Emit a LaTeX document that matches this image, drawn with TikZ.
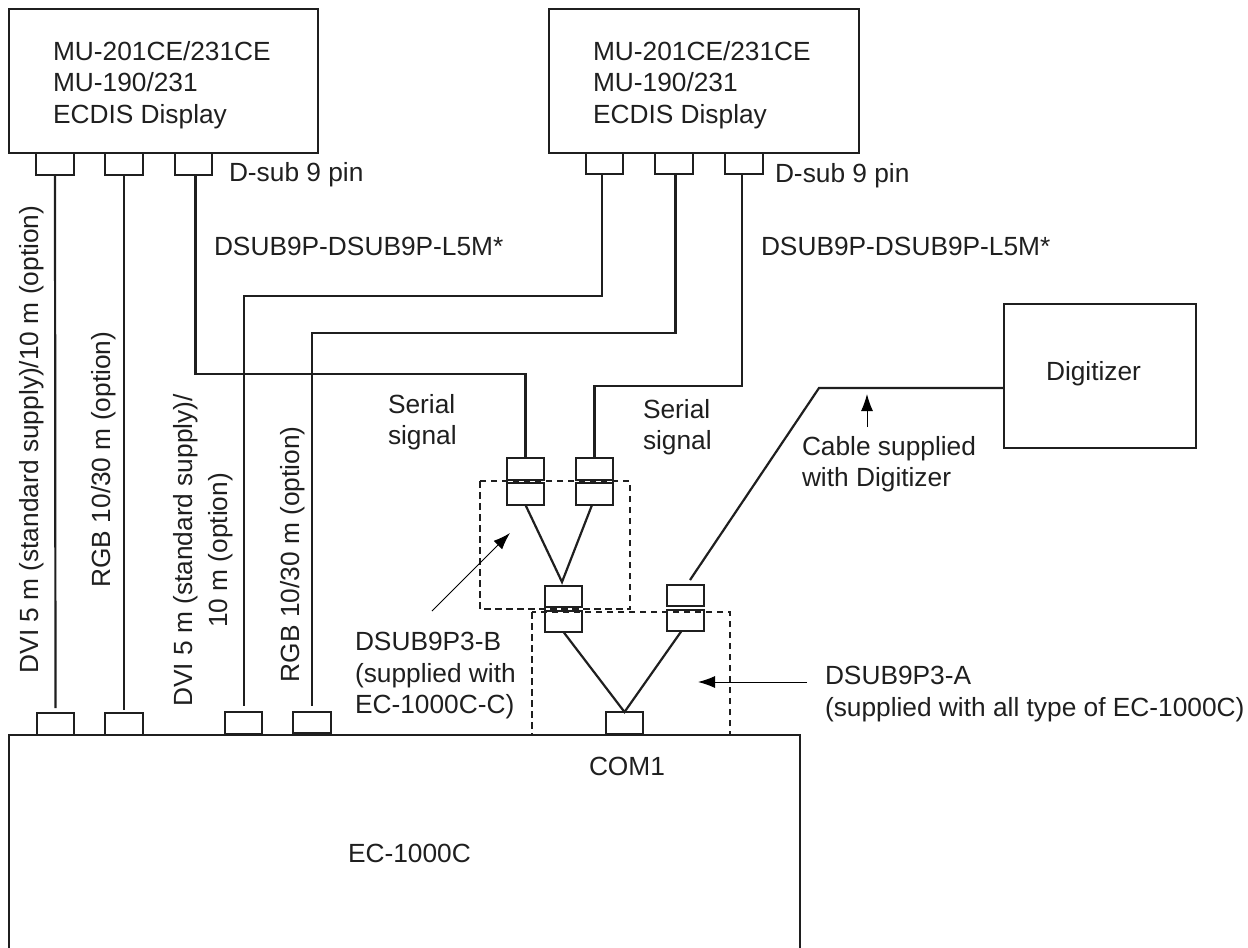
\documentclass[tikz,border=0pt]{standalone}
\usepackage{fontspec}
\setmainfont{Liberation Sans}
\usetikzlibrary{arrows.meta}
\tikzset{
  x=1pt,y=-1pt,
  frame/.style={draw=black!88,line width=2.4pt,line cap=rect,outer sep=0pt},
  lead/.style={draw=black!88,line width=2.2pt},
  conn/.style={draw=black!88,line width=2.2pt,fill=white,outer sep=0pt},
  dash box/.style={draw=black!88,line width=2.2pt,dash pattern=on 6.5pt off 4.5pt},
  pointer/.style={draw=black,line width=1pt,-{Latex[length=17pt,width=12pt]}},
  lab/.style={font=\fontsize{26.3}{31.7}\selectfont,text=black!88,inner sep=0pt,outer sep=0pt,align=left},
}
\newcommand{\cbox}[5]{\node[conn,minimum width=#4pt-#2pt,minimum height=#5pt-#3pt,inner sep=0pt,anchor=north west] (#1) at (#2,#3) {};}
\begin{document}
\begin{tikzpicture}
\useasboundingbox (0,0) rectangle (1248,948);
% boxes
\node[frame,anchor=north west,minimum width=309pt,minimum height=144pt,inner sep=0pt] (d1) at (9,9) {};
\node[frame,anchor=north west,minimum width=310pt,minimum height=144pt,inner sep=0pt] (d2) at (549,9) {};
\node[frame,anchor=north west,minimum width=192pt,minimum height=144pt,inner sep=0pt] (dig) at (1004,304) {};
\coordinate (ecbl) at (9,948); \coordinate (ectl) at (9,735);
\coordinate (ectr) at (800,735); \coordinate (ecbr) at (800,948);
\draw[frame,line cap=butt,line join=miter] (ecbl) -- (ectl) -- (ectr) -- (ecbr);
% display connectors
\cbox{a1}{36}{153}{74}{175}
\cbox{a2}{105}{153}{143}{175}
\cbox{a3}{175}{153}{212}{175}
\cbox{b1}{586}{153}{623}{174}
\cbox{b2}{655}{153}{693}{174}
\cbox{b3}{725}{153}{763}{174}
% ec connectors
\cbox{e1}{37}{713}{74}{735}
\cbox{e2}{105}{713}{143}{735}
\cbox{e3}{225}{712}{262}{734}
\cbox{e4}{293}{712}{331}{733}
\cbox{com}{606}{712}{643}{734}
% splitter connectors
\cbox{p1u}{507}{458}{544}{480}
\cbox{p1l}{507}{483}{544}{505}
\cbox{p2u}{576}{458}{613}{480}
\cbox{p2l}{576}{483}{613}{505}
\cbox{m1u}{545}{586}{582}{607}
\cbox{m1l}{545}{611}{582}{632}
\cbox{m2u}{667}{585}{704}{606}
\cbox{m2l}{667}{610}{704}{631}
% dashed groups
\coordinate (bnw) at (480,481); \coordinate (bse) at (630,609);
\coordinate (anw) at (532,612); \coordinate (ase) at (730,735);
\draw[dash box] (bnw) rectangle (bse);
\draw[dash box] (anw) rectangle (ase);
% leads
\draw[lead] (a1.south) -- ([yshift=5pt]e1.north);
\draw[lead] (a2.south) -- ([yshift=3pt]e2.north);
\draw[lead] ([xshift=2pt]a3.south) -- (195.5,374) -- (525.5,374) -- (p1u.north);
\draw[lead] ([xshift=-2.5pt]b1.south) -- (602,296) -- (244,296) -- ([xshift=0.5pt,yshift=6pt]e3.north);
\draw[lead] ([xshift=1.5pt]b2.south) -- (675.5,333) -- (312,333) -- ([yshift=6pt]e4.north);
\draw[lead] ([xshift=-2pt]b3.south) -- (742,386) -- (594.5,386) -- (p2u.north);
\coordinate (j1) at (562,582);
\draw[lead] (p1l.south) -- (j1) -- ([xshift=-2.5pt]p2l.south);
\coordinate (j2) at (624.5,712);
\draw[lead] (m1l.south) -- (j2) -- ([xshift=-4pt]m2l.south);
\coordinate (dg) at (690,580); \coordinate (dk) at (819,388);
\draw[lead] (dg) -- (dk) -- (dig.west |- dk);
% pointers
\coordinate (t1) at (867,427); \coordinate (h1) at (867,394);
\draw[pointer] (t1) -- (h1);
\coordinate (t2) at (432,611); \coordinate (h2) at (510,533);
\draw[pointer] (t2) -- (h2);
\coordinate (t3) at (807,682); \coordinate (h3) at (698,682);
\draw[pointer] (t3) -- (h3);
% labels
\node[lab,anchor=north west] (l1) at (53,41) {MU-201CE/231CE\\MU-190/231\\ECDIS Display};
\node[lab,anchor=north west] (l2) at (593,41) {MU-201CE/231CE\\MU-190/231\\ECDIS Display};
\node[lab,anchor=base west] (l3) at (229,181) {D-sub 9 pin};
\node[lab,anchor=base west] (l4) at (775,182) {D-sub 9 pin};
\node[lab,anchor=base west] (l5) at (214,255) {DSUB9P-DSUB9P-L5M*};
\node[lab,anchor=base west] (l6) at (761,255) {DSUB9P-DSUB9P-L5M*};
\node[lab,anchor=north west] (l7) at (388,394) {Serial\\signal};
\node[lab,anchor=north west] (l8) at (643,399) {Serial\\signal};
\node[lab,anchor=base west] (l9) at (1046,380) {Digitizer};
\node[lab,anchor=north west] (l10) at (802,436) {Cable supplied\\with Digitizer};
\node[lab,anchor=north west] (l11) at (355,632) {DSUB9P3-B\\(supplied with\\EC-1000C-C)};
\node[lab,anchor=north west] (l12) at (825,666) {DSUB9P3-A\\(supplied with all type of EC-1000C)};
\node[lab,anchor=base west] (l13) at (589,775) {COM1};
\node[lab,anchor=base west] (l14) at (348,862) {EC-1000C};
\node[lab,rotate=90,anchor=base west] (r1) at (38,673.5) {DVI 5 m (standard supply)/10 m (option)};
\node[lab,rotate=90,anchor=base west] (r2) at (110,587.5) {RGB 10/30 m (option)};
\node[lab,rotate=90,font=\fontsize{26.3}{35}\selectfont,align=center,anchor=center] (r3) at (203,550.5) {DVI 5 m (standard supply)/\\10 m (option)};
\node[lab,rotate=90,anchor=base west] (r4) at (299,682) {RGB 10/30 m (option)};
\end{tikzpicture}
\end{document}
